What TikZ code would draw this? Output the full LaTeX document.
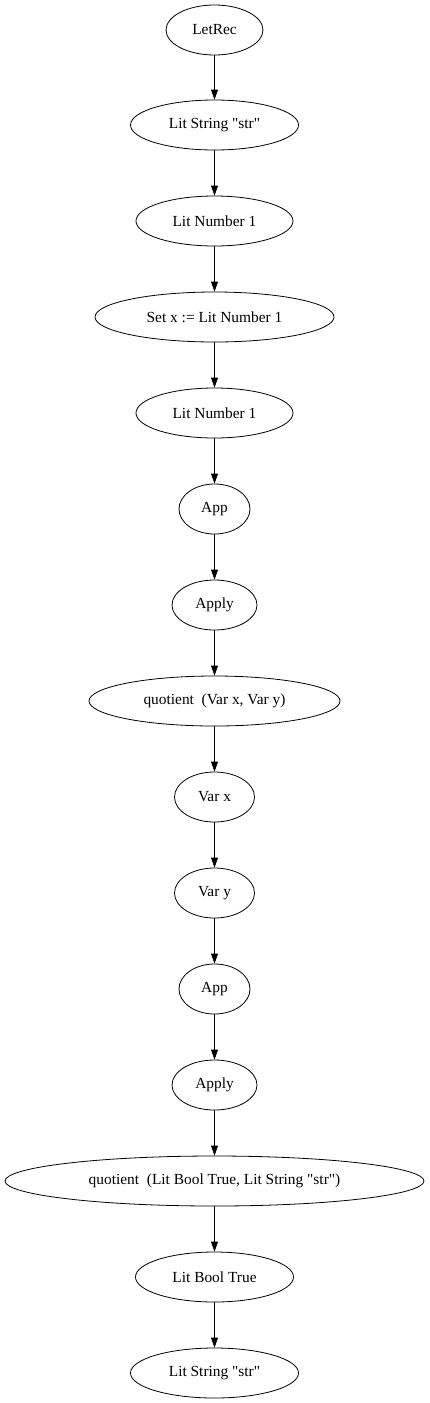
\documentclass[tikz,border=0pt]{standalone}
\usepackage{fontspec}
\setmainfont[Ligatures=TeXOff]{Liberation Serif}
\usetikzlibrary{shapes.geometric,arrows.meta}
\begin{document}
\begin{tikzpicture}[x=1pt,y=1pt,
  nd/.style={draw,ellipse,inner sep=0pt,minimum height=50pt,line width=0.8pt,font=\fontsize{15.4pt}{17pt}\selectfont},
  arr/.style={-{Triangle[length=10pt,width=7pt]},line width=0.8pt}]
\useasboundingbox (0,0) rectangle (430,-1403);
\node[nd,minimum width=97pt]  (n1)  at (214.5,-30)   {LetRec};
\node[nd,minimum width=168pt] (n2)  at (214.5,-125)  {Lit String "str"};
\node[nd,minimum width=157pt] (n3)  at (214.5,-221)  {Lit Number 1};
\node[nd,minimum width=239pt] (n4)  at (214.5,-317)  {Set x := Lit Number 1};
\node[nd,minimum width=157pt] (n5)  at (214.5,-413)  {Lit Number 1};
\node[nd,minimum width=71pt]  (n6)  at (214.5,-509)  {App};
\node[nd,minimum width=85pt]  (n7)  at (214.5,-605)  {Apply};
\node[nd,minimum width=251pt] (n8)  at (214.5,-701)  {quotient\ \ (Var x, Var y)};
\node[nd,minimum width=80pt]  (n9)  at (214.5,-797)  {Var x};
\node[nd,minimum width=80pt]  (n10) at (214.5,-893)  {Var y};
\node[nd,minimum width=71pt]  (n11) at (214.5,-989)  {App};
\node[nd,minimum width=85pt]  (n12) at (214.5,-1085) {Apply};
\node[nd,minimum width=419pt] (n13) at (214.5,-1181) {quotient\ \ (Lit Bool True, Lit String "str")};
\node[nd,minimum width=158pt] (n14) at (214.5,-1277) {Lit Bool True};
\node[nd,minimum width=168pt] (n15) at (214.5,-1373) {Lit String "str"};
\foreach \a/\b in {n1/n2,n2/n3,n3/n4,n4/n5,n5/n6,n6/n7,n7/n8,n8/n9,n9/n10,n10/n11,n11/n12,n12/n13,n13/n14,n14/n15}
  \draw[arr] (\a) -- (\b);
\end{tikzpicture}
\end{document}
